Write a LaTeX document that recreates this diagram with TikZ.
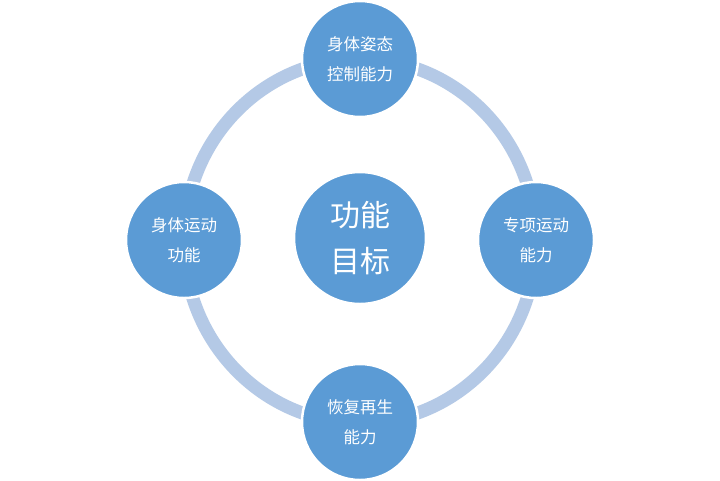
\documentclass[tikz,border=0pt]{standalone}
\usepackage{fontspec}
\newfontfamily\cjk{Noto Sans CJK SC}
\definecolor{cfill}{HTML}{5B9BD5}
\definecolor{ring}{HTML}{B4C9E6}
\begin{document}
\begin{tikzpicture}[x=1pt,y=-1pt,
  bub/.style={circle,fill=cfill,draw=white,line width=2.5pt,text=white,align=center,font=\cjk\fontsize{16.5}{30}\selectfont,inner sep=0pt,minimum size=116pt}]
\useasboundingbox (0,0) rectangle (720,480);
\fill[white] (0,0) rectangle (720,480);
\draw[ring,line width=13pt] (360,241) ellipse [x radius=176, y radius=182];
\node[bub,minimum size=132pt,font=\cjk\fontsize{30}{46}\selectfont] (c) at (360,238) {功能\\目标};
\node[bub] (t) at (360,59) {身体姿态\\控制能力};
\node[bub] (r) at (536,240) {专项运动\\能力};
\node[bub] (l) at (184,240) {身体运动\\功能};
\node[bub] (b) at (360,422) {恢复再生\\能力};
\end{tikzpicture}
\end{document}
